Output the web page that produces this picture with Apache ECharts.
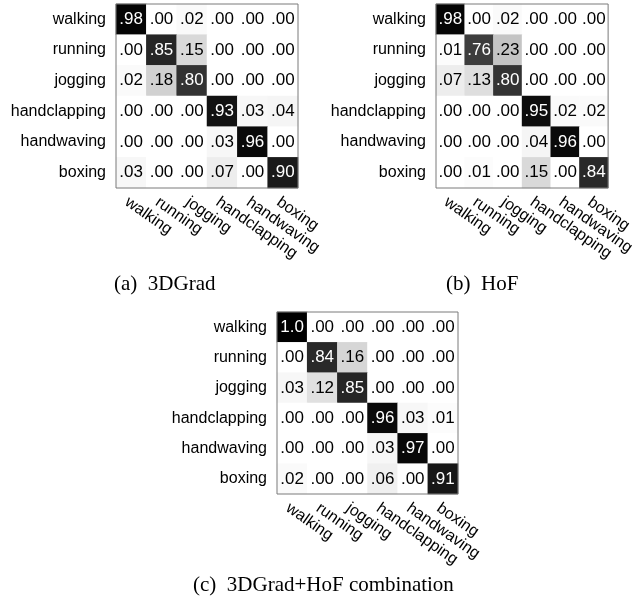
<!DOCTYPE html>
<html>
<head>
<meta charset="utf-8">
<script src="https://cdn.jsdelivr.net/npm/echarts@6/dist/echarts.min.js"></script>
<style>
html, body { margin: 0; padding: 0; background: #fff; }
#chart { width: 637px; height: 604px; }
</style>
</head>
<body>
<div id="chart"></div>
<script>
// class names, same on both axes
const actions = ['walking', 'running', 'jogging', 'handclapping', 'handwaving', 'boxing']

// confusion matrices, one row per true class
const grad3d = [
  [0.98, 0.00, 0.02, 0.00, 0.00, 0.00],
  [0.00, 0.85, 0.15, 0.00, 0.00, 0.00],
  [0.02, 0.18, 0.80, 0.00, 0.00, 0.00],
  [0.00, 0.00, 0.00, 0.93, 0.03, 0.04],
  [0.00, 0.00, 0.00, 0.03, 0.96, 0.00],
  [0.03, 0.00, 0.00, 0.07, 0.00, 0.90]
]
const hof = [
  [0.98, 0.00, 0.02, 0.00, 0.00, 0.00],
  [0.01, 0.76, 0.23, 0.00, 0.00, 0.00],
  [0.07, 0.13, 0.80, 0.00, 0.00, 0.00],
  [0.00, 0.00, 0.00, 0.95, 0.02, 0.02],
  [0.00, 0.00, 0.00, 0.04, 0.96, 0.00],
  [0.00, 0.01, 0.00, 0.15, 0.00, 0.84]
]
const combined = [
  [1.00, 0.00, 0.00, 0.00, 0.00, 0.00],
  [0.00, 0.84, 0.16, 0.00, 0.00, 0.00],
  [0.03, 0.12, 0.85, 0.00, 0.00, 0.00],
  [0.00, 0.00, 0.00, 0.96, 0.03, 0.01],
  [0.00, 0.00, 0.00, 0.03, 0.97, 0.00],
  [0.02, 0.00, 0.00, 0.06, 0.00, 0.91]
]
const captions = ['(a)  3DGrad', '(b)  HoF', '(c)  3DGrad+HoF combination']

const sans = 'Liberation Sans, Arial, sans-serif'
const serif = 'Liberation Serif, Times New Roman, serif'

// ".98" style, 1 shows as "1.0"
function fmt(v) {
  if (v >= 1) return '1.0'
  return v.toFixed(2).replace(/^0/, '')
}

function toCells(matrix) {
  const out = []
  matrix.forEach((row, r) => {
    row.forEach((v, c) => {
      out.push({
        value: [c, r, v],
        label: { color: v > 0.5 ? '#fff' : '#000' }
      })
    })
  })
  return out
}

const grids = [
  { left: 116, top: 4, width: 182, height: 184 },
  { left: 436, top: 4, width: 182, height: 184 },
  { left: 277, top: 312, width: 181, height: 182 }
]
const captionPos = [
  { left: 114, top: 274 },
  { left: 446, top: 274 },
  { left: 193, top: 575 }
]
const matrices = [grad3d, hof, combined]

const myChart = echarts.init(document.getElementById('chart'))
myChart.setOption({
  backgroundColor: '#fff',
  animation: false,
  title: captions.map((t, i) => Object.assign({
    text: t, padding: 0,
    textStyle: { fontFamily: serif, fontSize: 21, fontWeight: 'normal', color: '#000' }
  }, captionPos[i])),
  grid: grids.map(g => Object.assign({
    show: true, z: 3, backgroundColor: 'transparent',
    borderColor: '#7a7a7a', borderWidth: 1
  }, g)),
  xAxis: grids.map((g, i) => ({
    type: 'category', gridIndex: i, data: actions,
    axisLine: { show: false }, axisTick: { show: false }, splitLine: { show: false },
    axisLabel: {
      rotate: -35, margin: 6, verticalAlign: 'top',
      fontFamily: sans, fontSize: 16, color: '#000', interval: 0
    }
  })),
  yAxis: grids.map((g, i) => ({
    type: 'category', gridIndex: i, data: actions, inverse: true,
    axisLine: { show: false }, axisTick: { show: false }, splitLine: { show: false },
    axisLabel: { margin: 10, fontFamily: sans, fontSize: 16, color: '#000', interval: 0 }
  })),
  visualMap: {
    show: false, min: 0, max: 1, dimension: 2,
    inRange: { color: ['#ffffff', '#000000'] }
  },
  series: matrices.map((m, i) => ({
    type: 'heatmap', xAxisIndex: i, yAxisIndex: i,
    data: toCells(m),
    label: {
      show: true, fontFamily: sans, fontSize: 17,
      formatter: p => fmt(p.value[2])
    },
    itemStyle: { borderWidth: 0 }
  }))
})
</script>
</body>
</html>
